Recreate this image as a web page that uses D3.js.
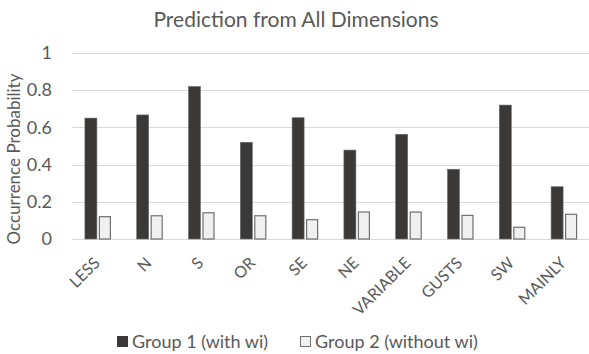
<!DOCTYPE html>
<html>
<head>
<meta charset="utf-8">
<script src="https://cdn.jsdelivr.net/npm/d3@7"></script>
<style>
  html, body { margin: 0; padding: 0; background: #fff; }
  svg { display: block; font-family: Lato, "Open Sans", sans-serif; }
</style>
</head>
<body>
<svg id="chart" width="589" height="354"></svg>
<script>
// Occurrence probabilities per keyword, two groups
const categories = ["LESS", "N", "S", "OR", "SE", "NE", "VARIABLE", "GUSTS", "SW", "MAINLY"];
const group1 = [0.65, 0.667, 0.82, 0.52, 0.652, 0.478, 0.563, 0.375, 0.72, 0.281];
const group2 = [0.12, 0.125, 0.141, 0.125, 0.104, 0.145, 0.145, 0.127, 0.063, 0.133];
const seriesNames = ["Group 1 (with wi)", "Group 2 (without wi)"];
const yTicks = [0, 0.2, 0.4, 0.6, 0.8, 1];

const svg = d3.select("#chart");
const plotLeft = 72, plotRight = 590;
const plotBottom = 239, plotTop = 53;

const x = d3.scaleBand().domain(categories).range([plotLeft, plotRight]).paddingInner(0).paddingOuter(0);
const y = d3.scaleLinear().domain([0, 1]).range([plotBottom, plotTop]);

const textColor = "#595959";
const darkFill = "#3a3938";
const lightFill = "#f0f0f0";

// Title
svg.append("text")
  .attr("x", 296).attr("y", 27)
  .attr("text-anchor", "middle")
  .attr("font-size", 21)
  .attr("fill", textColor)
  .text("Prediction from All Dimensions");

// Gridlines
svg.append("g").selectAll("line")
  .data(yTicks)
  .join("line")
  .attr("x1", plotLeft).attr("x2", 589)
  .attr("y1", d => Math.round(y(d)) + 0.5)
  .attr("y2", d => Math.round(y(d)) + 0.5)
  .attr("stroke", "#d9d9d9")
  .attr("stroke-width", 1);

// Y axis labels
const yAxis = d3.axisLeft(y).tickValues(yTicks).tickFormat(d => String(d)).tickSize(0).tickPadding(0);
const yg = svg.append("g").attr("transform", "translate(52,0)").call(yAxis);
yg.select(".domain").remove();
yg.selectAll("text")
  .attr("fill", textColor)
  .attr("font-size", 18)
  .attr("font-family", "Lato, sans-serif");

// Y axis title
svg.append("text")
  .attr("transform", "translate(20,159) rotate(-90)")
  .attr("text-anchor", "middle")
  .attr("font-size", 17)
  .attr("fill", textColor)
  .text("Occurrence Probability");

// Bars
const barW = 12, gap = 2;
const groups = svg.append("g").selectAll("g")
  .data(categories.map((c, i) => ({ c, v1: group1[i], v2: group2[i] })))
  .join("g")
  .attr("transform", d => `translate(${x(d.c) + x.bandwidth() / 2},0)`);

groups.append("rect")
  .attr("x", -barW - gap / 2)
  .attr("width", barW)
  .attr("y", d => y(d.v1))
  .attr("height", d => y(0) - y(d.v1))
  .attr("fill", darkFill)
  .attr("stroke", "#6b6b6b")
  .attr("stroke-width", 0.6);

groups.append("rect")
  .attr("x", gap / 2 + 0.5)
  .attr("width", barW - 1)
  .attr("y", d => y(d.v2))
  .attr("height", d => y(0) - y(d.v2))
  .attr("fill", lightFill)
  .attr("stroke", "#707070")
  .attr("stroke-width", 1.2);

// X axis labels, rotated
const xAxis = d3.axisBottom(x).tickSize(0).tickPadding(0);
const xg = svg.append("g").attr("transform", `translate(0,${plotBottom})`).call(xAxis);
xg.select(".domain").remove();
xg.selectAll(".tick text")
  .attr("font-size", 16)
  .attr("font-family", "Lato, sans-serif")
  .attr("fill", textColor)
  .attr("text-anchor", "end")
  .attr("dy", 0)
  .attr("y", 0)
  .attr("transform", "translate(3,25) rotate(-45)");

// Legend
const legend = svg.append("g").attr("transform", "translate(0,342)");
const legendItems = [
  { name: seriesNames[0], x: 117, fill: darkFill, stroke: darkFill },
  { name: seriesNames[1], x: 300, fill: lightFill, stroke: "#707070" }
];
const li = legend.selectAll("g").data(legendItems).join("g")
  .attr("transform", d => `translate(${d.x},0)`);
li.append("rect")
  .attr("x", 0.5).attr("y", -5.5)
  .attr("width", 10).attr("height", 10)
  .attr("fill", d => d.fill)
  .attr("stroke", d => d.stroke)
  .attr("stroke-width", 1);
li.append("text")
  .attr("x", 15).attr("y", 6)
  .attr("font-size", 18)
  .attr("fill", textColor)
  .text(d => d.name);
</script>
</body>
</html>
